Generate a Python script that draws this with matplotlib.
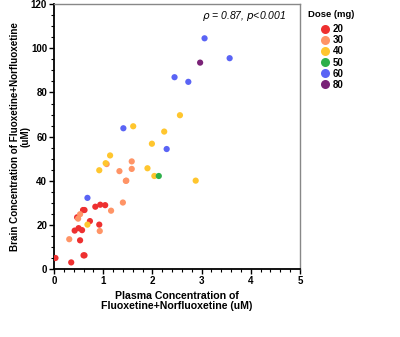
import matplotlib
matplotlib.use("Agg")
import matplotlib.pyplot as plt
from matplotlib.ticker import MultipleLocator
from matplotlib.lines import Line2D

plt.rcParams['font.family'] = ['Liberation Sans', 'DejaVu Sans']

doses = [20, 30, 40, 50, 60, 80]
colors = {20: '#EE3030', 30: '#FF9466', 40: '#FFC62E', 50: '#2DB04A', 60: '#5A64F5', 80: '#7A2277'}

# plasma (uM), brain (uM) per dose group
x20 = [0.03, 0.35, 0.42, 0.50, 0.57, 0.53, 0.60, 0.62, 0.47, 0.59, 0.62, 0.73, 0.84, 0.94, 1.04, 0.92]
y20 = [5.1, 3.1, 17.5, 18.6, 17.7, 13.1, 6.3, 6.3, 23.5, 26.8, 26.8, 21.8, 28.3, 29.2, 29.0, 20.2]
x30 = [0.53, 0.49, 0.31, 0.93, 1.16, 1.40, 1.46, 1.07, 1.33, 1.58, 1.58, 1.47]
y30 = [24.9, 22.9, 13.6, 17.3, 26.5, 30.2, 40.0, 47.6, 44.4, 48.8, 45.4, 40.1]
x40 = [0.68, 0.92, 1.05, 1.14, 1.61, 1.90, 1.99, 2.04, 2.24, 2.56, 2.88]
y40 = [20.2, 44.8, 48.0, 51.5, 64.7, 45.7, 56.8, 42.2, 62.3, 69.7, 40.1]
x50 = [2.13]
y50 = [42.2]
x60 = [0.68, 1.41, 2.29, 2.45, 2.73, 3.06, 3.57]
y60 = [32.3, 63.8, 54.4, 86.9, 84.8, 104.5, 95.5]
x80 = [2.97]
y80 = [93.5]

series = {20: (x20, y20), 30: (x30, y30), 40: (x40, y40), 50: (x50, y50), 60: (x60, y60), 80: (x80, y80)}

fig = plt.figure(figsize=(4.0, 3.37), dpi=100)
ax = fig.add_axes([0.135, 0.201, 0.615, 0.787])

for d in doses:
    xs, ys = series[d]
    ax.scatter(xs, ys, s=20, color=colors[d], edgecolors='none', zorder=3)

ax.set_xlim(0, 5)
ax.set_ylim(0, 120)
ax.xaxis.set_major_locator(MultipleLocator(1))
ax.xaxis.set_minor_locator(MultipleLocator(0.2))
ax.yaxis.set_major_locator(MultipleLocator(20))
ax.yaxis.set_minor_locator(MultipleLocator(5))

for s in ['left', 'bottom']:
    ax.spines[s].set_linewidth(1.3)
    ax.spines[s].set_color('black')
for s in ['top', 'right']:
    ax.spines[s].set_linewidth(1.0)
    ax.spines[s].set_color('#888888')

ax.tick_params(which='major', direction='out', length=3.5, width=1.0, labelsize=7, pad=1.5)
ax.tick_params(which='minor', direction='out', length=2, width=0.8)
ax.tick_params(axis='x', which='both', top=False)
ax.tick_params(axis='y', which='both', right=False)
for lab in ax.get_xticklabels() + ax.get_yticklabels():
    lab.set_fontweight('bold')

ax.set_xlabel('Plasma Concentration of\nFluoxetine+Norfluoxetine (uM)', fontsize=7.6,
              fontweight='bold', labelpad=3.5, linespacing=1.0)
ax.set_ylabel('Brain Concentration of Fluoxetine+Norfluoxetine\n(uM)', fontsize=7.1,
              fontweight='bold', labelpad=0.5, linespacing=1.05)

ax.text(0.945, 0.955, r'$\rho$ = 0.87, $p$<0.001', transform=ax.transAxes,
        ha='right', va='center', fontsize=7.5, style='italic')

handles = [Line2D([0], [0], marker='o', linestyle='none', markersize=6.5,
                  markerfacecolor=colors[d], markeredgecolor='none', label=str(d)) for d in doses]
leg = fig.legend(handles=handles, title='Dose (mg)', loc='upper left',
                 bbox_to_anchor=(0.752, 0.992), frameon=False, fontsize=7,
                 title_fontproperties={'weight': 'bold', 'size': 6.8},
                 handletextpad=0.05, labelspacing=0.12, handlelength=1.4,
                 borderpad=0.2)
leg._legend_box.sep = 4
for t in leg.get_texts():
    t.set_fontweight('bold')

fig.savefig('out.png', dpi=100)
